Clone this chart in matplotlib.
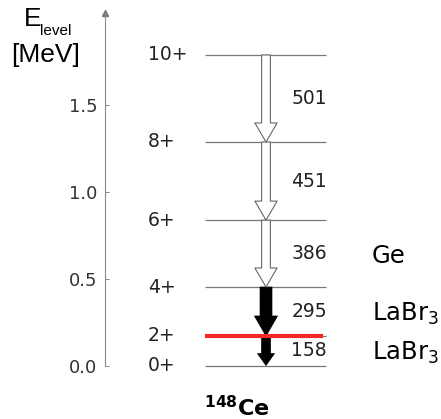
import matplotlib
matplotlib.use("Agg")
import matplotlib.pyplot as plt
from matplotlib.patches import FancyArrowPatch, ArrowStyle

W, H = 441, 419
DPI = 100

spins = ["0+", "2+", "4+", "6+", "8+", "10+"]
levels = [0.0, 0.170, 0.452, 0.837, 1.287, 1.788]
gammas = ["158", "295", "386", "451", "501"]
detectors = ["LaBr$_3$", "LaBr$_3$", "Ge", "", ""]
filled = [True, True, False, False, False]
yticks = [0.0, 0.5, 1.0, 1.5]
ytick_labels = ["0.0", "0.5", "1.0", "1.5"]
nucleus = r"$\mathbf{^{148}}$Ce"

fig = plt.figure(figsize=(W / DPI, H / DPI), dpi=DPI)
ax_x0 = 104.5
ax = fig.add_axes([ax_x0 / W, 0, 1 - ax_x0 / W, 1])
ppm = 173.67            # pixels per MeV
y0 = H - 365.5          # pixel height of 0 MeV from bottom
ax.set_ylim(-y0 / ppm, (H - y0) / ppm)
ax.set_xlim(ax_x0, W)

def px(p):
    return p / ppm

# axis styling
for s in ["top", "right", "bottom"]:
    ax.spines[s].set_visible(False)
ax.spines["left"].set_color("#8a8a8a")
ax.spines["left"].set_linewidth(0.8)
ax.spines["left"].set_bounds(0, 2.03)
ax.set_xticks([])
ax.set_yticks(yticks)
ax.set_yticklabels(ytick_labels)
ax.tick_params(axis="y", direction="in", length=3, width=0.7, color="#888888",
               labelsize=13, labelcolor="#333333", pad=5)
ax.plot([ax_x0], [2.03], marker="^", ms=4, color="#777777", clip_on=False)
ax.patch.set_visible(False)

# levels
ax.hlines(levels, 205, 326, color="#777777", lw=0.9, zorder=2)
ax.hlines(levels[1], 205, 323, color="#f02828", lw=3, zorder=6)

# transitions
for i in range(len(gammas)):
    top, bot = levels[i + 1], levels[i]
    if filled[i]:
        if i == 0:
            st = ArrowStyle.Simple(head_length=8.6, head_width=12.2, tail_width=6.5)
        else:
            st = ArrowStyle.Simple(head_length=14.4, head_width=16.6, tail_width=8.6)
        fc, ec, lw = "black", "black", 0.5
    else:
        st = ArrowStyle.Simple(head_length=13.7, head_width=16.0, tail_width=6.3)
        fc, ec, lw = "white", "#666666", 0.8
    arr = FancyArrowPatch((266, top), (266, bot), arrowstyle=st, mutation_scale=1,
                          shrinkA=0, shrinkB=0, fc=fc, ec=ec, lw=lw, zorder=4)
    ax.add_patch(arr)
    mid = (top + bot) / 2
    ax.text(327, mid, gammas[i], ha="right", va="center", fontsize=13.5,
            color="#222222")
    if detectors[i]:
        ax.text(372, mid - px(9), detectors[i], ha="left", va="baseline",
                fontsize=17.5, color="black")

# spin labels
for s, lv in zip(spins, levels):
    ax.text(148, lv, s, ha="left", va="center", fontsize=13.5, color="#222222",
            clip_on=False)

# y-axis title
fig.text(24 / W, 1 - 26 / H, "E", fontfamily="Liberation Sans", fontsize=19,
         va="baseline", ha="left")
fig.text(40 / W, 1 - 35 / H, "level", fontfamily="Liberation Sans", fontsize=11,
         va="baseline", ha="left")
fig.text(11 / W, 1 - 62 / H, "[MeV]", fontfamily="Liberation Sans", fontsize=19,
         va="baseline", ha="left")

# nucleus label
fig.text(237 / W, (H - 416) / H, nucleus, ha="center", va="baseline",
         fontsize=16, fontweight="bold")

fig.savefig("out.png", dpi=DPI)
